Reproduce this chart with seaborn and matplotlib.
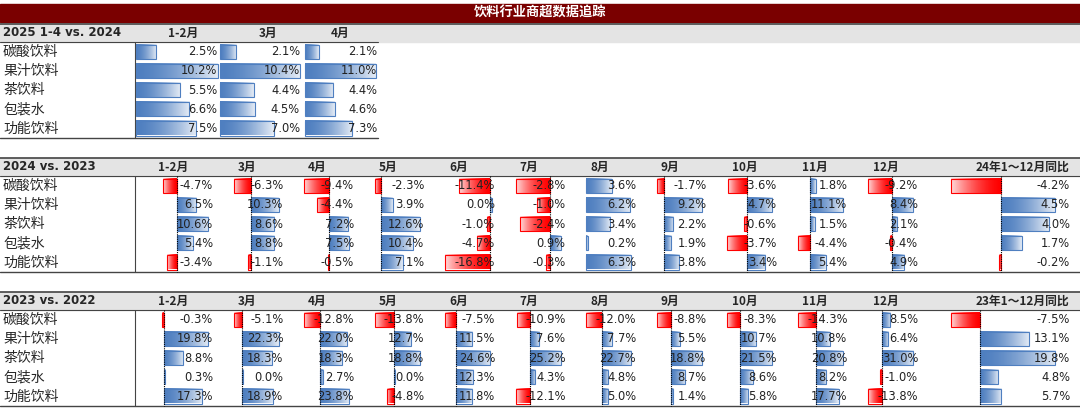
import numpy as np
import matplotlib
matplotlib.use("Agg")
import matplotlib.pyplot as plt
from matplotlib.patches import Rectangle
from matplotlib.colors import LinearSegmentedColormap
import seaborn as sns

sns.set_theme(style="white", font="Noto Sans CJK SC")
plt.rcParams["axes.unicode_minus"] = False

title = "饮料行业商超数据追踪"
categories = ["碳酸饮料", "果汁饮料", "茶饮料", "包装水", "功能饮料"]

s1_title = "2025 1-4 vs. 2024"
s1_cols = ["1-2月", "3月", "4月"]
s1_vals = [
    [2.5, 2.1, 2.1],
    [10.2, 10.4, 11.0],
    [5.5, 4.4, 4.4],
    [6.6, 4.5, 4.6],
    [7.5, 7.0, 7.3],
]

months = ["1-2月", "3月", "4月", "5月", "6月", "7月", "8月", "9月", "10月", "11月", "12月"]

s2_title = "2024 vs. 2023"
s2_cols = months + ["24年1～12月同比"]
s2_vals = [
    [-4.7, -6.3, -9.4, -2.3, -11.4, -2.8, 3.6, -1.7, -3.6, 1.8, -9.2, -4.2],
    [6.5, 10.3, -4.4, 3.9, 0.0, -1.0, 6.2, 9.2, 4.7, 11.1, 8.4, 4.5],
    [10.6, 8.6, 7.2, 12.6, -1.0, -2.4, 3.4, 2.2, -0.6, 1.5, 2.1, 4.0],
    [5.4, 8.8, 7.5, 10.4, -4.7, 0.9, 0.2, 1.9, -3.7, -4.4, -0.4, 1.7],
    [-3.4, -1.1, -0.5, 7.1, -16.8, -0.3, 6.3, 3.8, 3.4, 5.4, 4.9, -0.2],
]

s3_title = "2023 vs. 2022"
s3_cols = months + ["23年1～12月同比"]
s3_vals = [
    [-0.3, -5.1, -12.8, -13.8, -7.5, -10.9, -12.0, -8.8, -8.3, -14.3, 8.5, -7.5],
    [19.8, 22.3, 22.0, 12.7, 11.5, 7.6, 7.7, 5.5, 10.7, 10.8, 6.4, 13.1],
    [8.8, 18.3, 18.3, 18.8, 24.6, 25.2, 22.7, 18.8, 21.5, 20.8, 31.0, 19.8],
    [0.3, 0.0, 2.7, 0.0, 12.3, 4.3, 4.8, 8.7, 8.6, 8.2, -1.0, 4.8],
    [17.3, 18.9, 23.8, -4.8, 11.8, -12.1, 5.0, 1.4, 5.8, 17.7, -13.8, 5.7],
]

BLUE = "#4f7fc0"
RED = "#ff0000"
cmap_blue = LinearSegmentedColormap.from_list("b", [BLUE, "#ffffff"])
cmap_red = LinearSegmentedColormap.from_list("r", [RED, "#ffffff"])
grad = (np.linspace(0, 1, 64) ** 1.6 * 0.85)[None, :]

fig = plt.figure(figsize=(10.8, 4.09), dpi=100)
ax = fig.add_axes([0, 0, 1, 1])
ax.axis("off")


def bar(x_axis, x_end, y0, y1):
    pos = x_end >= x_axis
    g = grad if pos else grad[:, ::-1]
    cm = cmap_blue if pos else cmap_red
    l, r = min(x_axis, x_end), max(x_axis, x_end)
    if r - l < 1.5:
        if pos:
            r = l + 1.5
        else:
            l = r - 1.5
    ax.imshow(g, cmap=cm, vmin=0, vmax=1, extent=[l, r, y1, y0], aspect="auto", zorder=2)
    ax.add_patch(Rectangle((l, y0), r - l, y1 - y0, fill=False,
                           ec=BLUE if pos else RED, lw=0.8, zorder=3))


def section(top, head, cols, vals, cells, bar_areas, head_x):
    right = 1080 if len(cols) > 3 else 378
    ax.add_patch(Rectangle((0, top), 1080, 18, color="#e4e4e4", zorder=1))
    ax.plot([0, 1080], [top, top], color="#444444", lw=1.2, zorder=4)
    ax.text(3, top + 9, head, fontsize=8.5, fontweight="bold", va="center", fontfamily="Arial")
    for c, hx in zip(cols, head_x):
        ax.text(hx, top + 9, c, fontsize=8.5, fontweight="bold", va="center", ha="center")
    rh = 96 / len(categories)
    y = top + 18
    ax.plot([0, right], [y, y], color="#444444", lw=0.8)
    ax.plot([135, 135], [y, y + 96], color="#444444", lw=0.8)
    vals = np.array(vals)
    for j in range(len(cols)):
        col = vals[:, j]
        lo, hi = min(col.min(), 0), max(col.max(), 0)
        a0, a1 = bar_areas[j]
        scale = (a1 - a0) / (hi - lo)
        x_axis = a0 - lo * scale
        if lo < 0:
            ax.plot([x_axis, x_axis], [y, y + 96], color="black", lw=0.8, ls=(0, (1, 1)), zorder=4)
        for i, v in enumerate(col):
            yy = y + i * rh
            bar(x_axis, x_axis + v * scale, yy + 2.5, yy + rh - 2.5)
            ax.text(cells[j][1], yy + rh / 2, f"{v:.1f}%", fontsize=8.3, ha="right",
                    va="center", fontfamily="Arial", color="#222222", zorder=5)
    for i, cat in enumerate(categories):
        ax.text(3, y + i * rh + rh / 2, cat, fontsize=10, va="center")
    ax.plot([0, right], [y + 96, y + 96], color="#444444", lw=1.0)


# title bar
ax.add_patch(Rectangle((0, 4), 1080, 18, color="#7a0000", zorder=1))
ax.text(540, 13, title, color="white", fontsize=9.5, fontweight="bold", ha="center", va="center")

# section 1
s1_cells = [(136, 217), (220, 300), (305, 377)]
s1_areas = [(136, 218), (220, 300), (305, 376)]
section(24, s1_title, s1_cols, s1_vals, s1_cells, s1_areas, [183, 268, 340])

# sections 2 and 3
cells = [(140 + 70.5 * i, 213 + 70.5 * i) for i in range(11)] + [(985, 1070)]
areas = [(163 + 70.5 * i, 208 + 70.5 * i) for i in range(11)] + [(951, 1055)]
head_x = [173] + [247 + 70.5 * (i - 1) + (4 if i >= 8 else 0) for i in range(1, 11)] + [1022]
section(158, s2_title, s2_cols, s2_vals, cells, areas, head_x)
section(292, s3_title, s3_cols, s3_vals, cells, areas, head_x)

ax.set_xlim(0, 1080)
ax.set_ylim(409, 0)
fig.savefig("out.png", dpi=100)
